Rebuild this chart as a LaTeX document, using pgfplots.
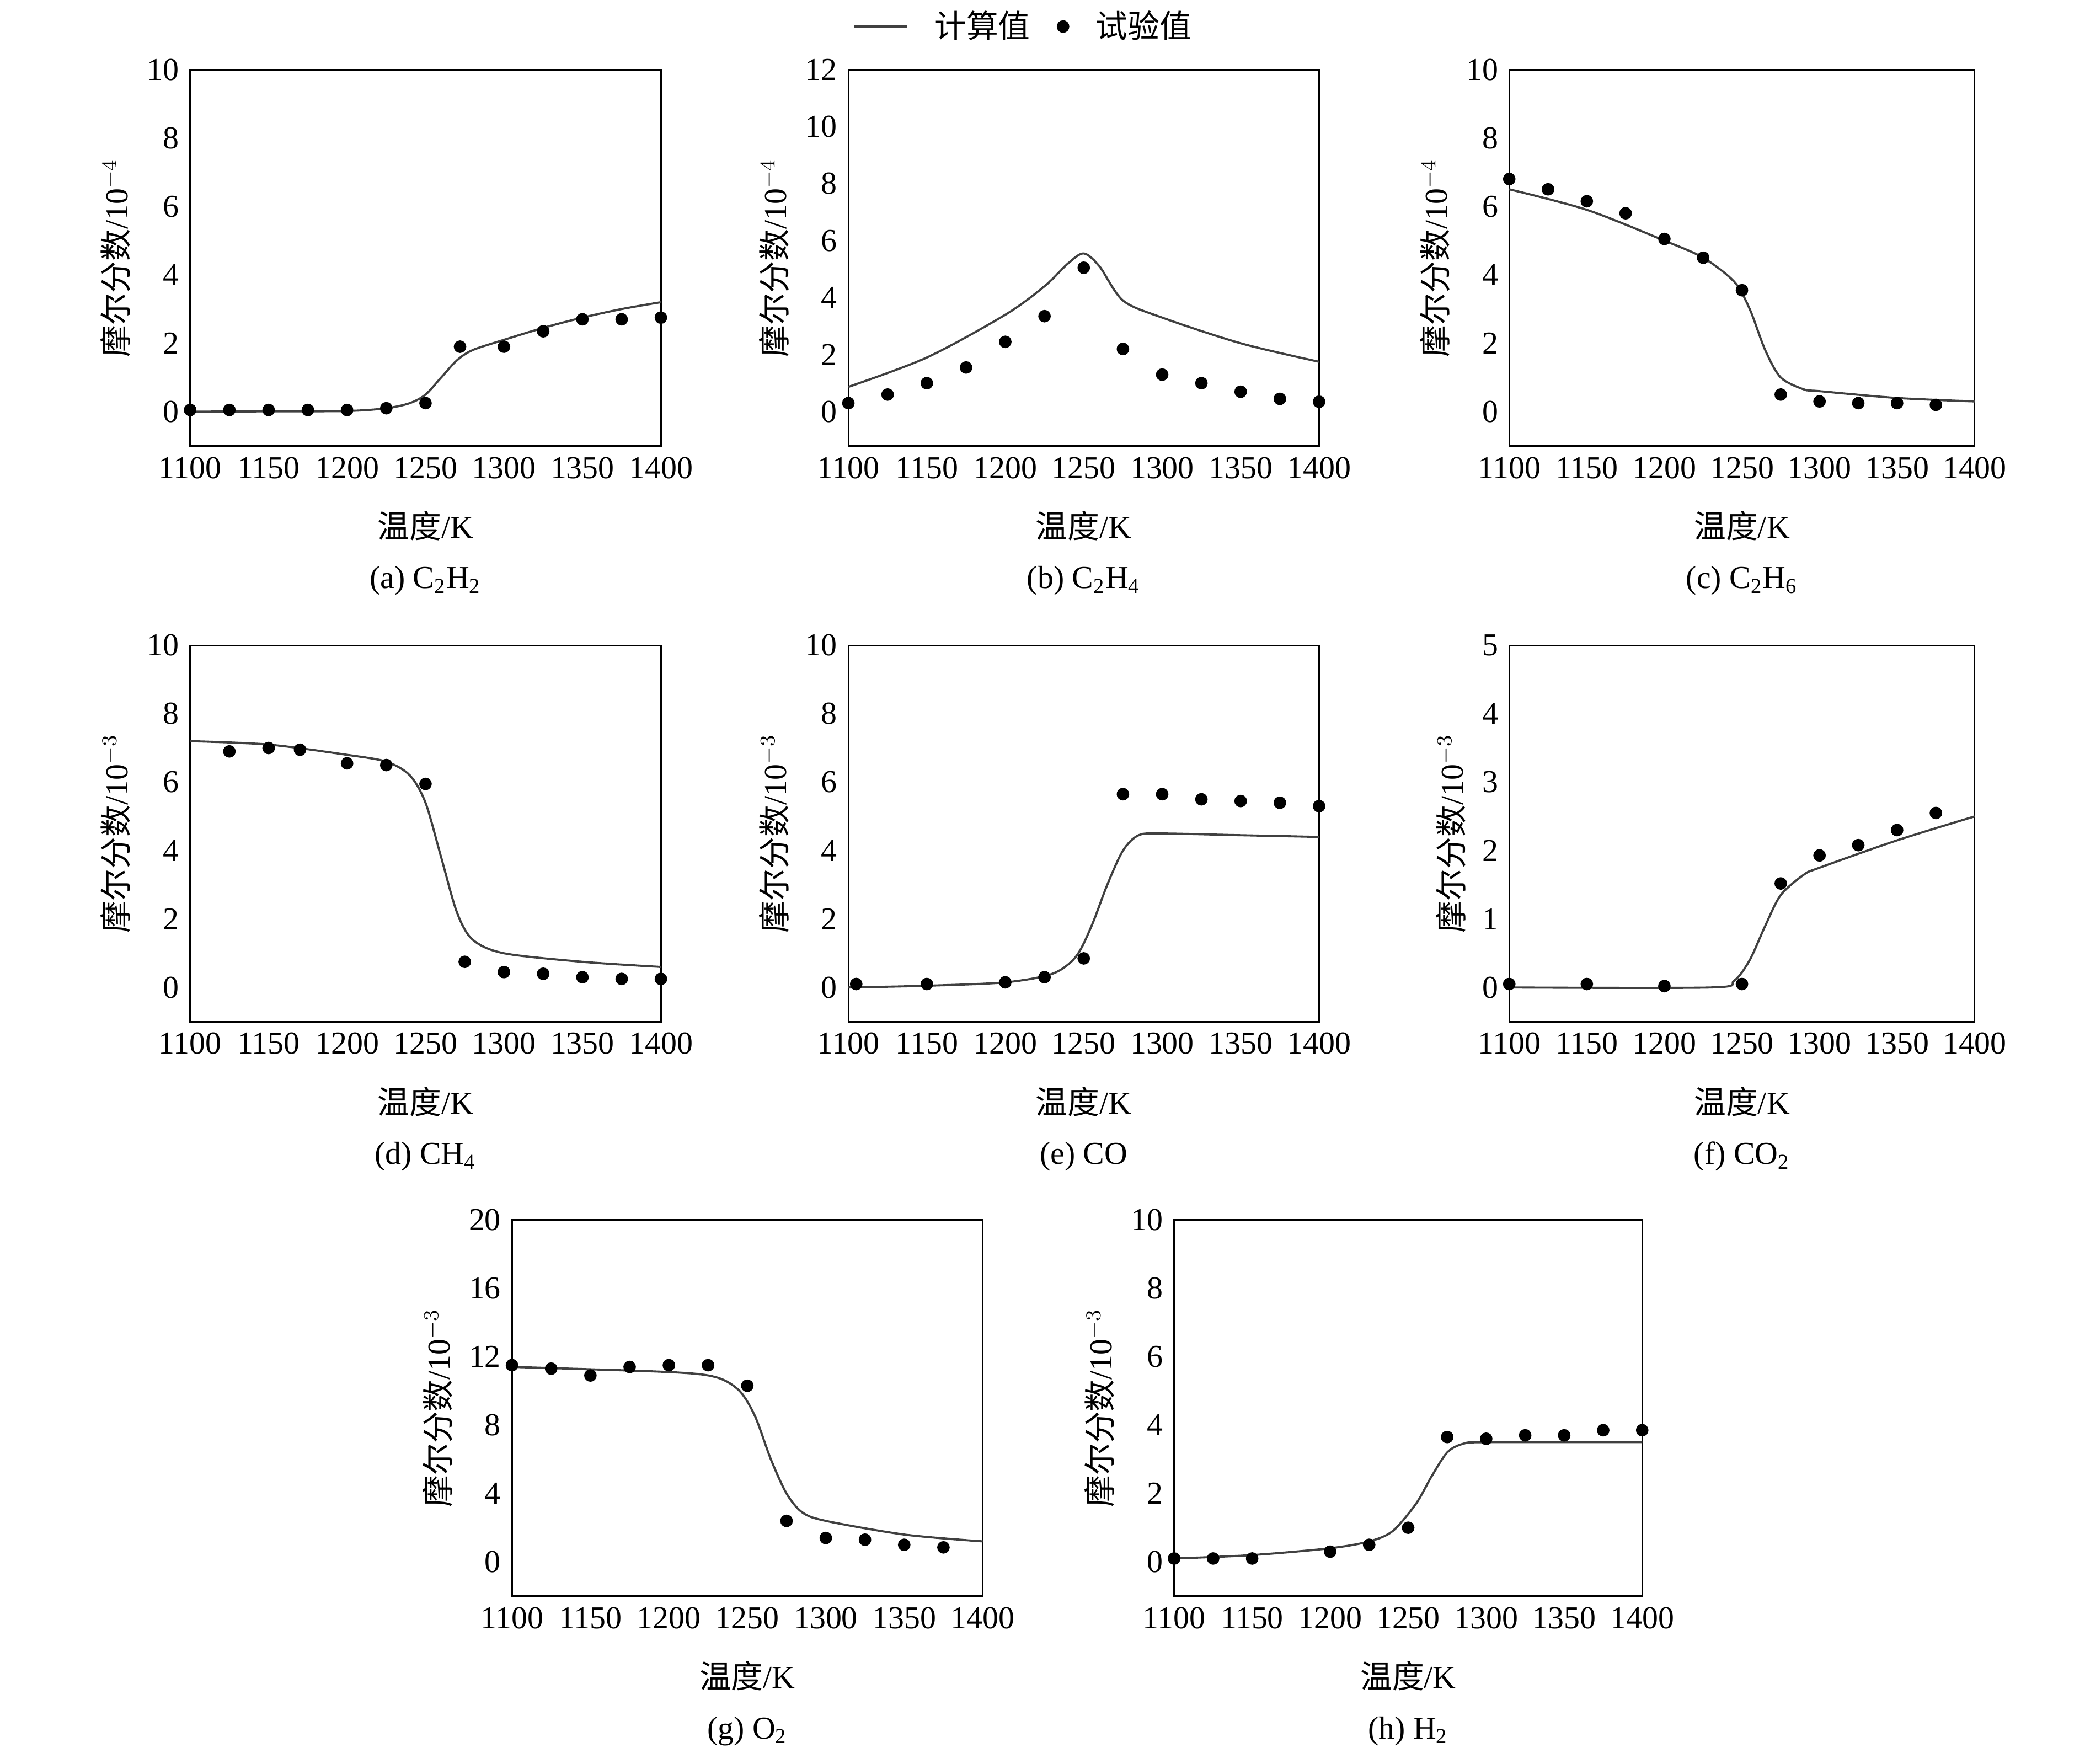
\documentclass[border=0pt]{standalone}
\usepackage{fontspec}
\setmainfont{Liberation Serif}
\newfontfamily\cjk{Noto Sans CJK SC}
\usepackage{pgfplots}
\pgfplotsset{compat=1.18}
\pgfplotsset{
  panel/.style={
    scale only axis, width=177pt, height=141.5pt,
    xmin=1100, xmax=1400, xtick={1100,1150,...,1400},
    tick align=inside, tick style={black, line width=0.5pt},
    axis line style={line width=0.6pt},
    xtick pos=bottom, ytick pos=left,
    major tick length=0pt,
    /pgf/number format/assume math mode=true,
    /pgf/number format/set thousands separator={},
    tick label style={font=\fontsize{12}{14}\selectfont},
    label style={font=\fontsize{12}{14}\selectfont},
    xlabel style={align=center, yshift=-4pt},
    ylabel style={yshift=-2pt},
    every axis plot/.append style={line width=0.7pt},
  },
  calc/.style={color=black!75, smooth, no markers, line width=0.8pt},
  expt/.style={only marks, mark=*, mark size=2pt, black},
}
\newcommand{\yl}[1]{{\cjk 摩尔分数}/10$^{-#1}$}
\newcommand{\xl}[1]{{\cjk 温度}/K\\[5pt]#1}
\begin{document}
\fontsize{12}{14}\selectfont
\begin{tikzpicture}
% (a)
\begin{axis}[panel, at={(71.5pt,495.5pt)}, ymin=-1, ymax=10, ytick={0,2,...,10},
  ylabel={\yl{4}}, xlabel={\xl{(a) C\textsubscript{2}H\textsubscript{2}}}]
\addplot[calc] coordinates {(1100,0)(1150,0.01)(1200,0.02)(1225,0.1)(1240,0.25)(1250,0.5)(1260,1.0)(1270,1.5)(1280,1.8)(1300,2.1)(1325,2.45)(1350,2.75)(1375,3.0)(1400,3.2)};
\addplot[expt] coordinates {(1100,0.05)(1125,0.05)(1150,0.05)(1175,0.05)(1200,0.05)(1225,0.1)(1250,0.25)(1272,1.9)(1300,1.9)(1325,2.35)(1350,2.7)(1375,2.7)(1400,2.75)};
\end{axis}
% (b)
\begin{axis}[panel, at={(319pt,495.5pt)}, ymin=-1.2, ymax=12, ytick={0,2,...,12},
  ylabel={\yl{4}}, xlabel={\xl{(b) C\textsubscript{2}H\textsubscript{4}}},
  legend columns=2, legend style={draw=none, fill=none, at={(0.375,1)}, anchor=south, yshift=6pt,
    font=\cjk\fontsize{12}{14}\selectfont, column sep=8pt},
  legend image code/.code={\draw[#1] (0pt,0pt) -- (0.7cm,0pt);}]
\addplot[calc] coordinates {(1100,0.87)(1150,1.9)(1200,3.4)(1225,4.4)(1240,5.2)(1250,5.55)(1260,5.1)(1275,3.9)(1300,3.3)(1350,2.4)(1400,1.75)};
\addlegendentry{计算值}
\addplot[expt, legend image code/.code={\fill[black] (0.4cm,0pt) circle (2pt);}] coordinates {(1100,0.3)(1125,0.6)(1150,1.0)(1175,1.55)(1200,2.45)(1225,3.35)(1250,5.05)(1275,2.2)(1300,1.3)(1325,1.0)(1350,0.7)(1375,0.45)(1400,0.35)};
\addlegendentry{试验值}
\end{axis}
% (c)
\begin{axis}[panel, at={(567.5pt,495.5pt)}, width=175pt, ymin=-1, ymax=10, ytick={0,2,...,10},
  ylabel={\yl{4}}, xlabel={\xl{(c) C\textsubscript{2}H\textsubscript{6}}}]
\addplot[calc] coordinates {(1100,6.5)(1150,5.9)(1200,5.0)(1225,4.5)(1245,3.8)(1255,3.0)(1265,1.8)(1275,1.0)(1290,0.65)(1300,0.6)(1350,0.4)(1400,0.3)};
\addplot[expt] coordinates {(1100,6.8)(1125,6.5)(1150,6.15)(1175,5.8)(1200,5.05)(1225,4.5)(1250,3.55)(1275,0.5)(1300,0.3)(1325,0.25)(1350,0.25)(1375,0.2)};
\end{axis}
% (d)
\begin{axis}[panel, at={(71.5pt,279pt)}, ymin=-1, ymax=10, ytick={0,2,...,10},
  ylabel={\yl{3}}, xlabel={\xl{(d) CH\textsubscript{4}}}]
\addplot[calc] coordinates {(1100,7.2)(1150,7.1)(1200,6.8)(1225,6.6)(1240,6.2)(1250,5.4)(1260,3.8)(1270,2.2)(1280,1.4)(1300,1.0)(1350,0.75)(1400,0.6)};
\addplot[expt] coordinates {(1125,6.9)(1150,7.0)(1170,6.95)(1200,6.55)(1225,6.5)(1250,5.95)(1275,0.75)(1300,0.45)(1325,0.4)(1350,0.3)(1375,0.25)(1400,0.25)};
\end{axis}
% (e)
\begin{axis}[panel, at={(319pt,279pt)}, ymin=-1, ymax=10, ytick={0,2,...,10},
  ylabel={\yl{3}}, xlabel={\xl{(e) CO}}]
\addplot[calc] coordinates {(1100,0)(1150,0.05)(1200,0.15)(1230,0.4)(1245,0.9)(1255,1.8)(1265,3.0)(1275,4.0)(1285,4.45)(1300,4.5)(1350,4.45)(1400,4.4)};
\addplot[expt] coordinates {(1105,0.1)(1150,0.1)(1200,0.15)(1225,0.3)(1250,0.85)(1275,5.65)(1300,5.65)(1325,5.5)(1350,5.45)(1375,5.4)(1400,5.3)};
\end{axis}
% (f)
\begin{axis}[panel, at={(567.5pt,279pt)}, width=175pt, ymin=-0.5, ymax=5, ytick={0,1,...,5},
  ylabel={\yl{3}}, xlabel={\xl{(f) CO\textsubscript{2}}}]
\addplot[calc] coordinates {(1100,0)(1230,0)(1245,0.1)(1255,0.4)(1265,0.9)(1275,1.35)(1290,1.65)(1300,1.75)(1350,2.15)(1400,2.5)};
\addplot[expt] coordinates {(1100,0.05)(1150,0.05)(1200,0.02)(1250,0.05)(1275,1.52)(1300,1.93)(1325,2.08)(1350,2.3)(1375,2.55)};
\end{axis}
% (g)
\begin{axis}[panel, at={(192.5pt,63pt)}, ymin=-2, ymax=20, ytick={0,4,...,20},
  ylabel={\yl{3}}, xlabel={\xl{(g) O\textsubscript{2}}}]
\addplot[calc] coordinates {(1100,11.4)(1200,11.1)(1230,10.8)(1245,10.0)(1255,8.5)(1265,6.0)(1275,4.0)(1285,2.9)(1300,2.4)(1350,1.6)(1400,1.2)};
\addplot[expt] coordinates {(1100,11.5)(1125,11.3)(1150,10.9)(1175,11.4)(1200,11.5)(1225,11.5)(1250,10.3)(1275,2.4)(1300,1.4)(1325,1.3)(1350,1.0)(1375,0.85)};
\end{axis}
% (h)
\begin{axis}[panel, at={(441.5pt,63pt)}, width=176pt, ymin=-1, ymax=10, ytick={0,2,...,10},
  ylabel={\yl{3}}, xlabel={\xl{(h) H\textsubscript{2}}}]
\addplot[calc] coordinates {(1100,0.1)(1150,0.2)(1200,0.4)(1225,0.6)(1240,0.9)(1255,1.7)(1265,2.5)(1275,3.2)(1285,3.45)(1300,3.5)(1400,3.5)};
\addplot[expt] coordinates {(1100,0.1)(1125,0.1)(1150,0.1)(1200,0.3)(1225,0.5)(1250,1.0)(1275,3.65)(1300,3.6)(1325,3.7)(1350,3.7)(1375,3.85)(1400,3.85)};
\end{axis}
\path (0,0) rectangle (784pt,662pt);
\end{tikzpicture}
\end{document}
